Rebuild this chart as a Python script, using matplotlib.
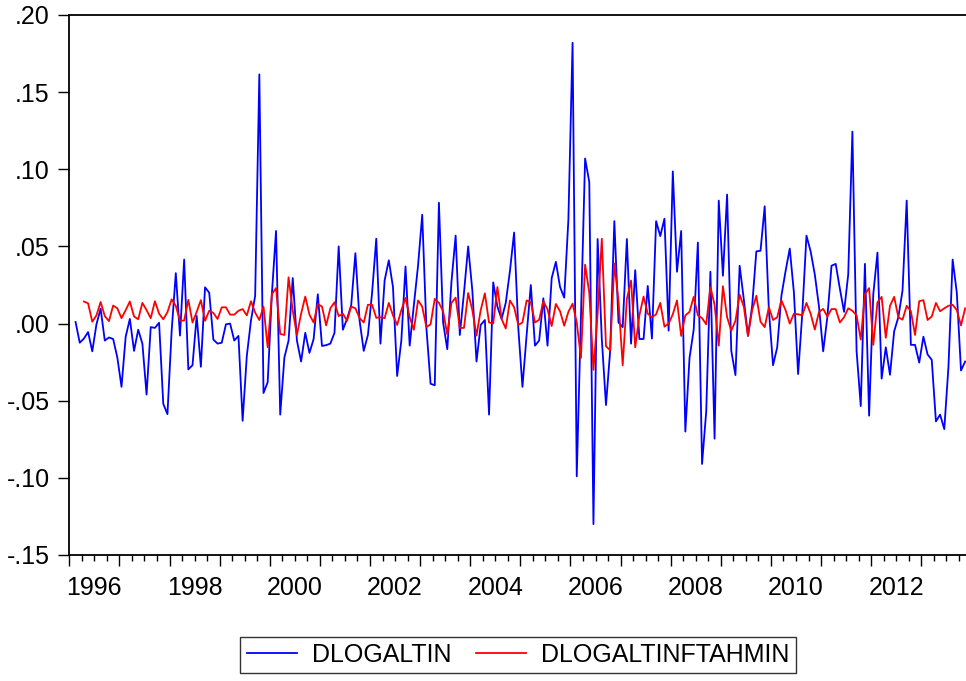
import numpy as np
import matplotlib
matplotlib.use("Agg")
import matplotlib.pyplot as plt
from matplotlib.ticker import FuncFormatter, MultipleLocator, FixedLocator

plt.rcParams['font.family'] = ['Liberation Sans', 'DejaVu Sans']

# monthly series, Jan 1996 = month 0
start_year = 1996
dlogaltin_start = 1          # 1996M02
dlogaltin = [
    0.001, -0.0124, -0.0097, -0.0055, -0.018, -0.0005, 0.0097, -0.011, -0.009, -0.010,
    -0.022, -0.041, -0.0085, 0.003, -0.0177, -0.004, -0.013, -0.046, -0.0023, -0.0028,
    0.0005, -0.052, -0.0587, -0.005, 0.0327, -0.0078, 0.0415, -0.0297, -0.027, 0.005,
    -0.028, 0.0235, 0.020, -0.0104, -0.013, -0.0124, -0.0005, 0.000, -0.011, -0.008,
    -0.063, -0.021, 0.002, 0.018, 0.1615, -0.045, -0.038, 0.019, 0.060, -0.059,
    -0.022, -0.011, 0.0295, -0.011, -0.0246, -0.006, -0.019, -0.010, 0.019, -0.0145,
    -0.014, -0.013, -0.006, 0.050, -0.004, 0.003, 0.012, 0.0456, 0.002, -0.0177,
    -0.0074, 0.020, 0.055, -0.013, 0.028, 0.041, 0.0237, -0.034, -0.011, 0.037,
    -0.0143, 0.012, 0.0375, 0.0705, -0.0028, -0.039, -0.040, 0.0783, 0.0007, -0.0166,
    0.027, 0.057, -0.0074, 0.020, 0.050, 0.0214, -0.0246, -0.0009, 0.0023, -0.059,
    0.0267, 0.011, 0.003, 0.0134, 0.034, 0.059, -0.0028, -0.041, -0.0074, 0.025,
    -0.0143, -0.011, 0.0164, -0.0143, 0.0295, 0.040, 0.0237, 0.0168, 0.0675, 0.182,
    -0.099, 0.003, 0.107, 0.0917, -0.130, 0.0548, -0.010, -0.0528, -0.0177, 0.0664,
    0.0007, -0.0023, 0.0548, -0.013, 0.0346, -0.010, -0.010, 0.0244, -0.0097, 0.0664,
    0.0567, 0.068, -0.0046, 0.0986, 0.0336, 0.060, -0.070, -0.0223, -0.004, 0.0525,
    -0.091, -0.057, 0.0336, -0.0746, 0.0797, 0.031, 0.0836, -0.0177, -0.0334, 0.0375,
    0.0157, -0.008, 0.0115, 0.0468, 0.0472, 0.076, 0.0087, -0.027, -0.0154, 0.018,
    0.034, 0.0486, 0.020, -0.0327, 0.0064, 0.057, 0.0468, 0.0318, 0.011, -0.018,
    0.0041, 0.0375, 0.0387, 0.0226, 0.0076, 0.0318, 0.1244, -0.0177, -0.0535, 0.0387,
    -0.0597, 0.019, 0.046, -0.0357, -0.0154, -0.0332, -0.005, 0.0041, 0.0214, 0.0797,
    -0.0138, -0.0138, -0.0253, -0.0085, -0.020, -0.0235, -0.0634, -0.059, -0.0684, -0.028,
    0.0415, 0.020, -0.0304, -0.0246,
]

tahmin_start = 3             # 1996M04
dlogaltinftahmin = [
    0.0143, 0.0131, 0.0012, 0.0053, 0.014, 0.0048, 0.0016, 0.0117, 0.0099, 0.0035,
    0.0087, 0.0143, 0.0046, 0.0028, 0.0134, 0.0087, 0.0035, 0.0145, 0.0064, 0.0028,
    0.0074, 0.0157, 0.0115, 0.0018, 0.002, 0.0154, 0.0007, 0.0076, 0.0152, 0.0018,
    0.0083, 0.0069, 0.003, 0.0105, 0.0106, 0.0058, 0.0058, 0.0083, 0.0094, 0.0053,
    0.0145, 0.0071, 0.0023, 0.011, -0.0154, 0.019, 0.023, -0.0067, -0.0074, 0.030,
    0.0083, -0.0074, 0.0064, 0.0175, 0.0058, 0.0007, 0.0127, 0.011, -0.0012, 0.0099,
    0.0138, 0.0048, 0.0064, 0.0018, 0.011, 0.0099, 0.0035, 0.0007, 0.0122, 0.0122,
    0.0037, 0.0041, 0.0035, 0.0134, 0.0053, -0.0009, 0.0087, 0.0166, 0.0041, -0.004,
    0.015, 0.011, -0.0023, -0.0005, 0.016, 0.0134, 0.008, -0.007, 0.0134, 0.0168,
    -0.0028, -0.0028, 0.0198, 0.0087, -0.0078, 0.0087, 0.0196, 0.0007, 0.000, 0.0237,
    0.003, -0.0032, 0.015, 0.0106, -0.0009, 0.0007, 0.015, 0.0138, 0.0007, 0.0025,
    0.0145, 0.0092, -0.0016, 0.0127, 0.008, -0.0014, 0.0076, 0.0129, 0.0007, -0.0223,
    0.0382, 0.020, -0.030, 0.0064, 0.055, -0.0147, -0.0173, 0.039, 0.0145, -0.027,
    0.016, 0.0279, -0.0154, 0.0053, 0.0175, 0.0064, 0.0041, 0.006, 0.0134, -0.002,
    0.000, 0.006, 0.015, -0.008, 0.0053, 0.0076, 0.0173, 0.0053, 0.0035, -0.0005,
    0.0237, 0.0122, -0.0143, 0.0242, 0.0041, -0.0046, 0.0018, 0.0187, 0.011, -0.008,
    0.0087, 0.018, 0.0012, -0.0023, 0.0106, 0.0023, 0.0041, 0.015, 0.0087, 0.000,
    0.0064, 0.006, 0.0053, 0.0134, 0.0064, -0.0039, 0.0076, 0.0095, 0.0046, 0.0094,
    0.0094, 0.0007, 0.0041, 0.0099, 0.0083, 0.0053, -0.0104, 0.019, 0.023, -0.0138,
    0.0138, 0.0173, -0.0092, 0.0115, 0.0173, 0.0041, 0.0025, 0.0115, 0.008, -0.0074,
    0.0145, 0.0152, 0.0023, 0.0046, 0.0134, 0.008, 0.0099, 0.0115, 0.0122, 0.0087,
    -0.0012, 0.0099,
]

year_labels = ['1996', '1998', '2000', '2002', '2004', '2006', '2008', '2010', '2012']

# each month is plotted in the middle of its slot
x_blue = np.arange(len(dlogaltin)) + dlogaltin_start + 0.5
x_red = np.arange(len(dlogaltinftahmin)) + tahmin_start + 0.5

fig = plt.figure(figsize=(9.66, 6.81), dpi=100)
ax = fig.add_axes([69.3 / 966, 1 - 555 / 681, 1 - 69.3 / 966, 540 / 681])

ax.plot(x_blue, dlogaltin, color='#0000FF', lw=1.3, label='DLOGALTIN')
ax.plot(x_red, dlogaltinftahmin, color='#FF0000', lw=1.3, label='DLOGALTINFTAHMIN')

ax.set_xlim(0, 214.7)
ax.set_ylim(-0.15, 0.20)

# y axis in eviews style: .20, -.05
def fmt(v, pos):
    s = f"{v:.2f}"
    return s.replace("0.", ".", 1)

ax.yaxis.set_major_locator(MultipleLocator(0.05))
ax.yaxis.set_major_formatter(FuncFormatter(fmt))
ax.tick_params(axis='y', direction='out', length=8, width=1, labelsize=18, pad=6)

# year ticks and quarter ticks, labels sit in the middle of every second year
ax.xaxis.set_major_locator(MultipleLocator(12))
ax.xaxis.set_minor_locator(MultipleLocator(3))
ax.tick_params(axis='x', which='major', direction='out', length=8, width=1, labelbottom=False)
ax.tick_params(axis='x', which='minor', direction='out', length=4.5, width=1)

sec = ax.secondary_xaxis('bottom')
sec.xaxis.set_major_locator(FixedLocator([24 * k + 6 for k in range(len(year_labels))]))
sec.set_xticklabels(year_labels)
sec.tick_params(axis='x', length=0, labelsize=18, pad=15)
sec.spines['bottom'].set_visible(False)

for s in ['top', 'left', 'bottom']:
    ax.spines[s].set_linewidth(1.3)
ax.spines['right'].set_visible(False)

leg = fig.legend(loc='center', bbox_to_anchor=(518 / 966, 1 - 655 / 681), ncol=2,
                 fontsize=18, frameon=True, fancybox=False, edgecolor='black',
                 handlelength=2.0, handletextpad=0.6, columnspacing=1.0,
                 borderpad=0.25)
leg.get_frame().set_linewidth(1.0)

plt.savefig('out.png', dpi=100)
